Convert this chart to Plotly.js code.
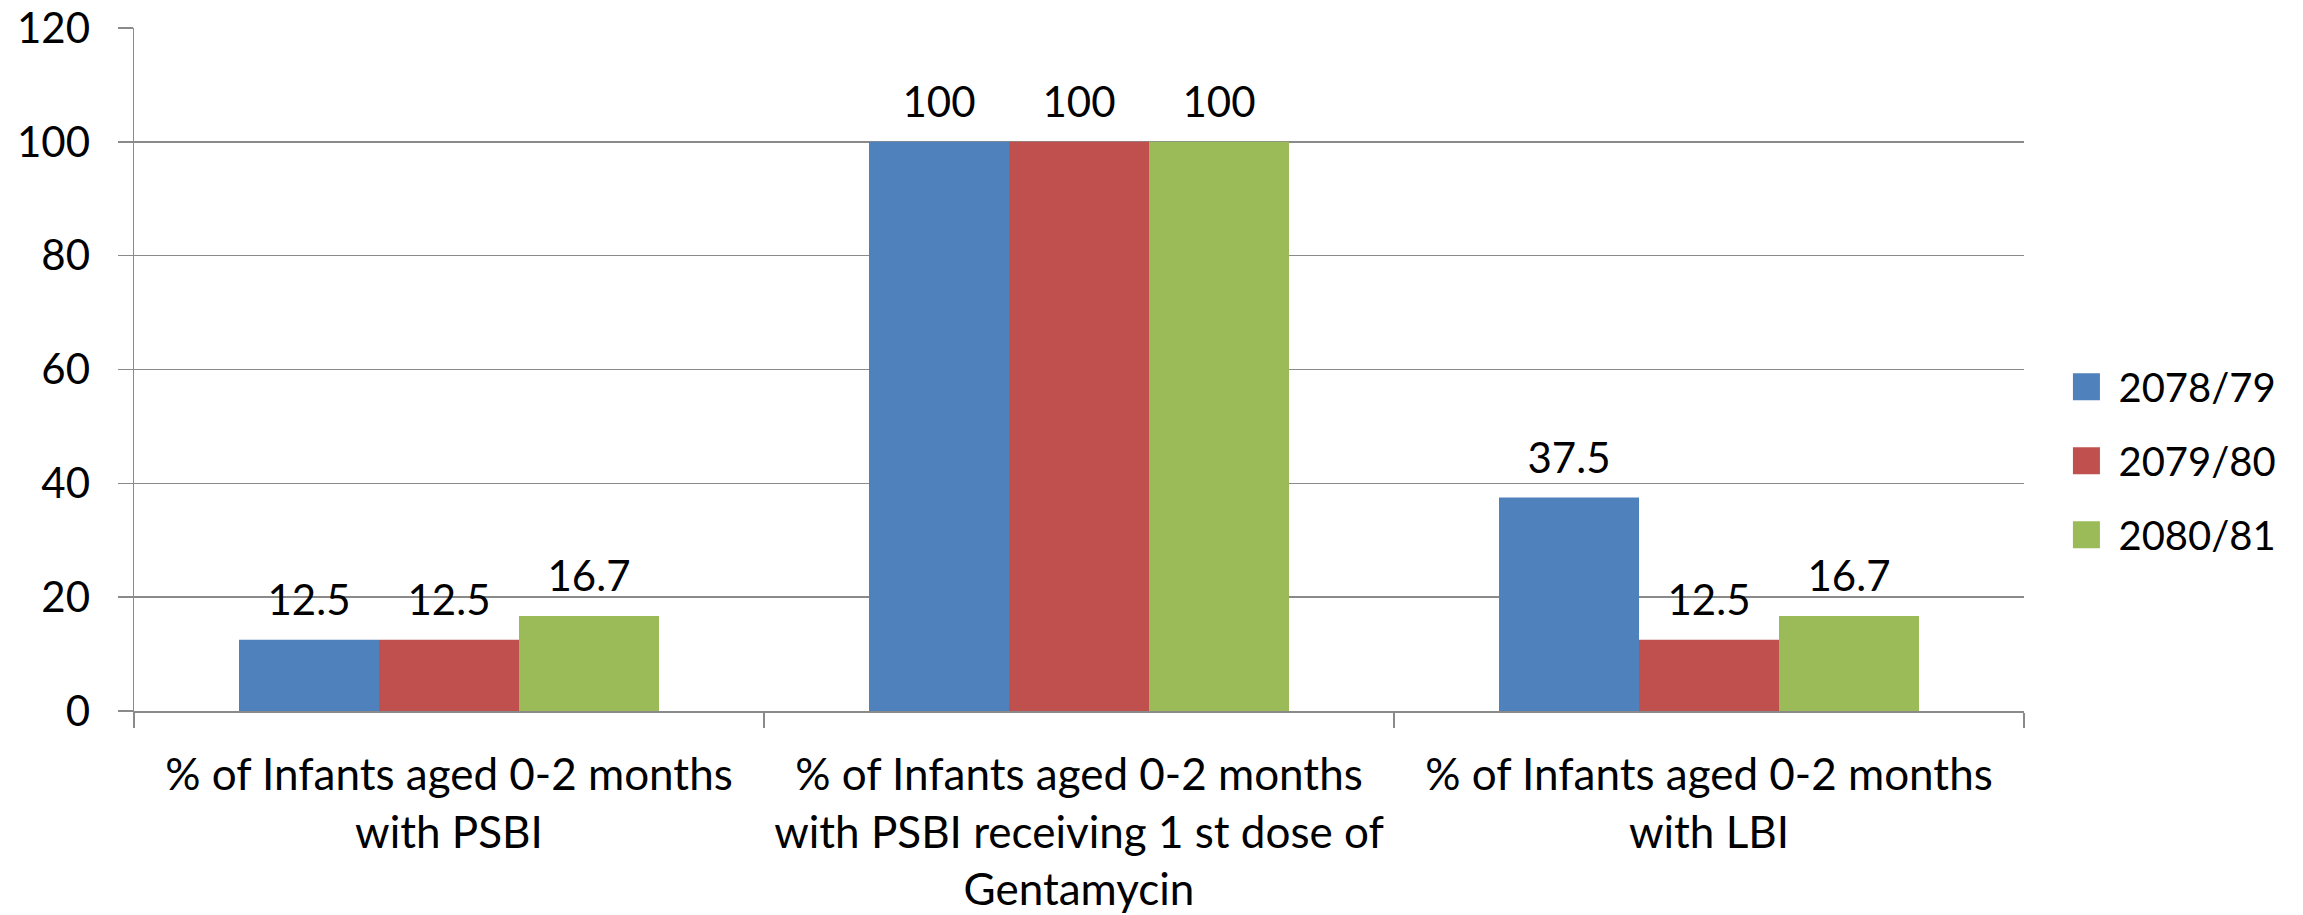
<!DOCTYPE html>
<html>
<head>
<meta charset="utf-8">
<script src="https://cdn.plot.ly/plotly-3.0.1.min.js"></script>
<style>html,body{margin:0;padding:0;background:#fff;}#chart{width:2303px;height:915px;}</style>
</head>
<body>
<div id="chart"></div>
<script>
const categories = [
  "% of Infants aged 0-2 months<br>with PSBI",
  "% of Infants aged 0-2 months<br>with PSBI receiving 1 st dose of<br>Gentamycin",
  "% of Infants aged 0-2 months<br>with LBI"
];
const seriesNames = ["2078/79", "2079/80", "2080/81"];
const values2078 = [12.5, 100, 37.5];
const values2079 = [12.5, 100, 12.5];
const values2080 = [16.7, 100, 16.7];
const seriesColors = ["#4F81BD", "#C0504D", "#9BBB59"];
const yTicks = [0, 20, 40, 60, 80, 100, 120];

const FONT = "Lato, 'Open Sans', sans-serif";
const allValues = [values2078, values2079, values2080];
const traces = allValues.map((vals, i) => ({
  type: "bar",
  name: seriesNames[i],
  x: categories,
  y: vals,
  text: vals.map(v => String(v)),
  textposition: "outside",
  cliponaxis: false,
  textfont: {family: FONT, size: 42, color: "#000"},
  marker: {color: seriesColors[i], line: {width: 0}},
  legendgroup: "g" + i,
  hoverinfo: "x+y+name"
}));

const gridCol = "#8a8a8a";
const layout = {
  width: 2303,
  height: 915,
  margin: {l: 134, r: 279, t: 28, b: 204, pad: 0},
  paper_bgcolor: "#fff",
  plot_bgcolor: "#fff",
  font: {family: FONT, size: 42, color: "#000"},
  barmode: "group",
  bargap: 1/3,
  bargroupgap: 0,
  showlegend: true,
  legend: {
    x: 1.0161, xanchor: "left",
    y: 0.3665, yanchor: "middle",
    font: {family: FONT, size: 40, color: "#000"},
    traceorder: "grouped",
    tracegroupgap: 19,
    itemwidth: 54,
    bgcolor: "rgba(0,0,0,0)",
    borderwidth: 0
  },
  xaxis: {
    type: "category",
    showgrid: false,
    showline: true,
    linecolor: gridCol,
    linewidth: 1.5,
    ticks: "outside",
    tickson: "boundaries",
    ticklen: 15,
    tickwidth: 1.5,
    tickcolor: gridCol,
    ticklabelstandoff: 25,
    tickfont: {family: FONT, size: 44, color: "#000"},
    automargin: false,
    zeroline: false
  },
  yaxis: {
    range: [0, 120],
    tickvals: yTicks,
    ticktext: yTicks.map(String),
    showgrid: true,
    gridcolor: gridCol,
    gridwidth: 1.5,
    showline: true,
    linecolor: gridCol,
    linewidth: 1.5,
    ticks: "outside",
    ticklen: 15,
    tickwidth: 1.5,
    tickcolor: gridCol,
    ticklabelstandoff: 19,
    tickfont: {family: FONT, size: 42, color: "#000"},
    zeroline: false,
    automargin: false
  }
};

Plotly.newPlot("chart", traces, layout, {displayModeBar: false, staticPlot: true}).then(() => {
  document.querySelectorAll(".legend .legendpoints path").forEach(p => {
    p.setAttribute("d", "M13.5,13.5H-13.5V-13.5H13.5Z");
  });
  document.querySelectorAll(".barlayer text").forEach(t => {
    const tr = t.getAttribute("transform") || "";
    t.setAttribute("transform", "translate(0,-13) " + tr);
  });
});
</script>
</body>
</html>
